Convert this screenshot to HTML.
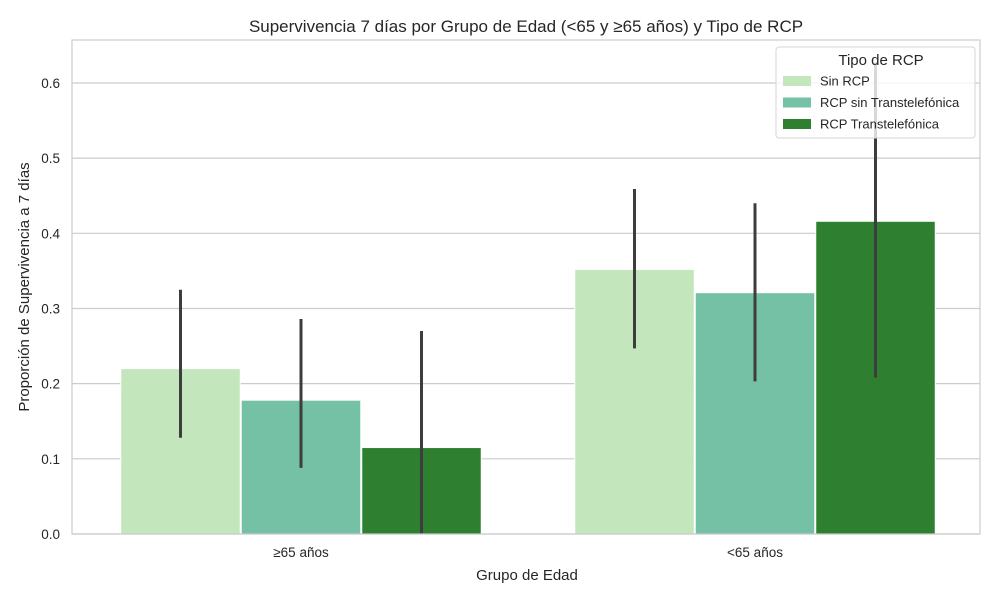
<!DOCTYPE html>
<html><head><meta charset="utf-8"><style>
body{margin:0;background:#fff;font-family:"Liberation Sans",sans-serif;}
</style></head><body>
<svg id="chart" width="1000" height="600" xmlns="http://www.w3.org/2000/svg" font-family="Liberation Sans, DejaVu Sans, sans-serif">
<rect width="1000" height="600" fill="#fff"/>
<text x="526" y="32" text-anchor="middle" font-size="17" fill="#262626">Supervivencia 7 días por Grupo de Edad (&lt;65 y ≥65 años) y Tipo de RCP</text>
<g id="grid"></g>
<g id="bars"></g>
<g id="errs"></g>
<rect x="72" y="40" width="908" height="494" fill="none" stroke="#cccccc" stroke-width="1.2"/>
<g id="yticks"></g>
<g id="xticks"></g>
<text x="527" y="580" text-anchor="middle" font-size="15" fill="#262626">Grupo de Edad</text>
<text transform="translate(29,287) rotate(-90)" text-anchor="middle" font-size="15" fill="#262626">Proporción de Supervivencia a 7 días</text>
<g id="legend">
<rect x="776" y="47" width="199" height="91" rx="3" fill="#ffffff" fill-opacity="0.8" stroke="#d6d6d6"/>
<text x="881" y="65" text-anchor="middle" font-size="15" fill="#262626">Tipo de RCP</text>
</g>
</svg>
<script>
const categories=["≥65 años","<65 años"];
const seriesNames=["Sin RCP","RCP sin Transtelefónica","RCP Transtelefónica"];
const sinRcp=[0.22,0.352];
const rcpSinTrans=[0.178,0.321];
const rcpTrans=[0.115,0.416];
const lowSin=[0.128,0.247];const highSin=[0.325,0.459];
const lowSinT=[0.088,0.203];const highSinT=[0.286,0.44];
const lowT=[0.0,0.208];const highT=[0.27,0.627];
const yTicks=[0,0.1,0.2,0.3,0.4,0.5,0.6];
const colors=["#c3e6bc","#74c1a6","#2e7f2f"];
const NS="http://www.w3.org/2000/svg";
const y=v=>534-v*751.7;
const groupCenter=i=>301+i*454;
const bw=120.5;
function mk(t,a,p){const e=document.createElementNS(NS,t);for(const k in a)e.setAttribute(k,a[k]);document.getElementById(p).appendChild(e);return e;}
yTicks.forEach(t=>{
 const l=mk('line',{x1:72,x2:980,y1:y(t),y2:y(t),stroke:'#cccccc','stroke-width':1.2},'grid');
 
 
 const tx=mk('text',{x:60,y:y(t)+5,'text-anchor':'end','font-size':13.5,fill:'#262626'},'yticks');
 tx.textContent=t.toFixed(1);
 
 
});
categories.forEach((c,i)=>{
 const tx=mk('text',{x:groupCenter(i),y:557,'text-anchor':'middle','font-size':13.5,fill:'#262626'},'xticks');
 tx.textContent=c;
 
 
});
const series=[sinRcp,rcpSinTrans,rcpTrans];
const lows=[lowSin,lowSinT,lowT],highs=[highSin,highSinT,highT];
const legendG=document.getElementById('legend');
series.forEach((s,j)=>{
 s.forEach((v,i)=>{
  const x0=groupCenter(i)+(j-1.5)*bw;
  const r=mk('rect',{x:x0+0.5,y:y(v),width:bw-1,height:y(0)-y(v),fill:colors[j],stroke:'#fff','stroke-width':1},'bars');
  
  
  const cx=x0+bw/2;
  const e=mk('line',{x1:cx,x2:cx,y1:y(lows[j][i]),y2:y(highs[j][i]),stroke:'#3d3d3d','stroke-width':3},'errs');
  
  
 });
 const ly=81+j*21.5;
 const p=mk('rect',{x:783,y:ly-5,width:28,height:10,fill:colors[j]},'legend');
 
 
 const t=mk('text',{x:820,y:ly+4.5,'font-size':13,fill:'#262626'},'legend');
 t.textContent=seriesNames[j];
 
 
});
// ensure legend is on top of error bars
document.getElementById('chart').appendChild(legendG);
</script>
</body></html>
